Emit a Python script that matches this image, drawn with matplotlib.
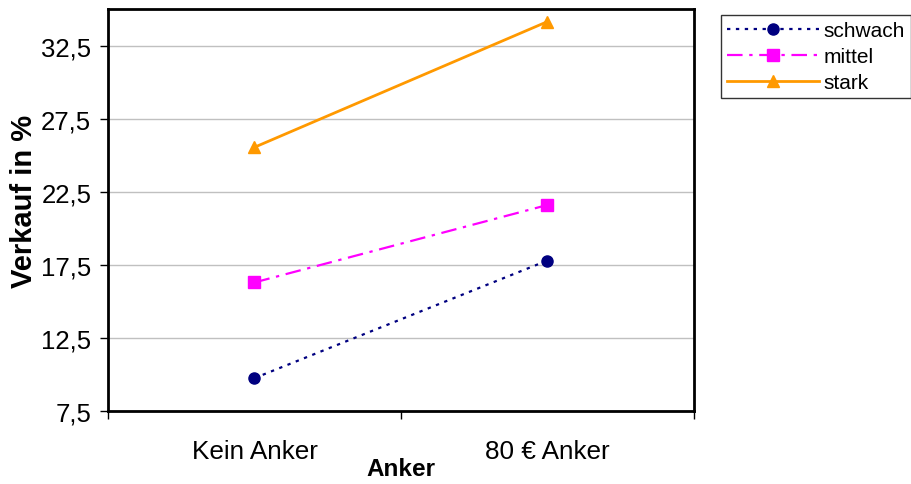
import matplotlib.pyplot as plt
from matplotlib.ticker import FixedLocator, FuncFormatter

plt.rcParams['font.family'] = ['Liberation Sans', 'DejaVu Sans']

categories = ['Kein Anker', '80 € Anker']
schwach = [9.75, 17.8]
mittel = [16.3, 21.6]
stark = [25.55, 34.15]
y_ticks = [7.5, 12.5, 17.5, 22.5, 27.5, 32.5]

fig = plt.figure(figsize=(9.12, 4.85), dpi=100)
ax = fig.add_axes([0.1184, 0.1505, 0.6425, 0.8285])

x = range(len(categories))
ax.plot(x, schwach, color='#000080', linestyle=(0, (1.5, 2.5)), linewidth=1.6,
        marker='o', markersize=8, label='schwach')
ax.plot(x, mittel, color='#FF00FF', linestyle=(0, (7, 3, 1.5, 3)), linewidth=1.6,
        marker='s', markersize=8, label='mittel')
ax.plot(x, stark, color='#FF9900', linestyle='-', linewidth=2,
        marker='^', markersize=9, label='stark')

ax.set_xlim(-0.5, 1.5)
ax.set_ylim(7.5, 35)
ax.set_yticks(y_ticks)
ax.yaxis.set_major_formatter(FuncFormatter(lambda v, p: f'{v:.1f}'.replace('.', ',')))
ax.set_xticks(list(x))
ax.set_xticklabels(categories)
ax.xaxis.set_minor_locator(FixedLocator([-0.5, 0.5, 1.5]))
ax.tick_params(axis='x', which='major', length=0, pad=20, labelsize=18.8)
ax.tick_params(axis='x', which='minor', length=6, width=1)
ax.tick_params(axis='y', length=6, width=1, labelsize=18.5, pad=6)
ax.grid(axis='y', color='#C0C0C0', linewidth=1)
ax.set_axisbelow(True)
for s in ax.spines.values():
    s.set_linewidth(2)
    s.set_color('black')

ax.set_xlabel('Anker', fontsize=17.5, fontweight='bold', labelpad=-4)
ax.set_ylabel('Verkauf in %', fontsize=21, fontweight='bold')
ax.yaxis.set_label_coords(-0.119, 0.525)

leg = ax.legend(loc='upper left', bbox_to_anchor=(1.0465, 0.985), fontsize=15,
                frameon=True, fancybox=False, edgecolor='black', borderpad=0.3,
                labelspacing=0.32, handlelength=4.4, handletextpad=0.2,
                borderaxespad=0, numpoints=1)
leg.get_frame().set_linewidth(1)

fig.savefig('out.png', dpi=100)
